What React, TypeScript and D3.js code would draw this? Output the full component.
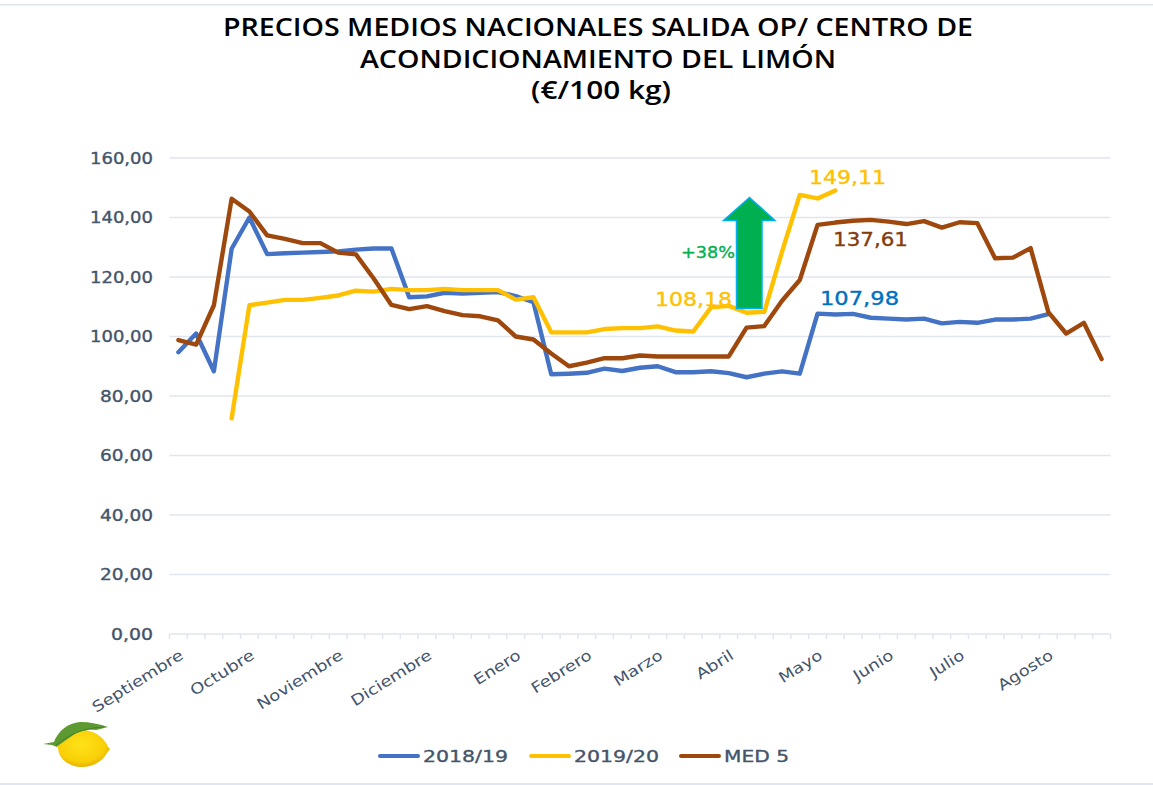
import React from "react";
import * as d3 from "d3";

const titleLines = ["PRECIOS MEDIOS NACIONALES SALIDA OP/ CENTRO DE", "ACONDICIONAMIENTO DEL LIMÓN", "(€/100 kg)"];
const yTicks = [0, 20, 40, 60, 80, 100, 120, 140, 160];
const monthLabels: [number, string][] = [
  [0, "Septiembre"], [4, "Octubre"], [9, "Noviembre"], [14, "Diciembre"], [19, "Enero"], [23, "Febrero"],
  [27, "Marzo"], [31, "Abril"], [36, "Mayo"], [40, "Junio"], [44, "Julio"], [49, "Agosto"],
];
const weeks = d3.range(53);
const s1819 = [94.7, 101, 88.3, 129.5, 140, 127.7, 128, 128.2, 128.4, 128.6, 129.2, 129.6, 129.6, 113.2, 113.5, 114.7, 114.4, 114.7, 114.9, 113.6, 111.5, 87.3, 87.5, 87.8, 89.2, 88.4, 89.5, 90, 88, 88, 88.3, 87.7, 86.3, 87.5, 88.3, 87.5, 107.7, 107.4, 107.6, 106.3, 106, 105.7, 106, 104.4, 104.9, 104.6, 105.7, 105.7, 106, 107.5];
const s1920 = [null, null, null, 72.5, 110.5, 111.4, 112.3, 112.3, 113, 113.8, 115.4, 115.1, 116, 115.6, 115.6, 116, 115.6, 115.6, 115.6, 112.4, 113.2, 101.4, 101.4, 101.4, 102.5, 102.8, 102.8, 103.4, 102, 101.7, 109.8, 110.3, 108, 108.3, 128.5, 147.6, 146.4, 149.1];
const med5 = [98.8, 97.3, 110.5, 146.3, 142, 134, 132.8, 131.4, 131.4, 128.2, 127.6, 119.5, 110.6, 109.2, 110.2, 108.5, 107.2, 106.8, 105.4, 100, 99, 94.3, 90, 91.2, 92.7, 92.7, 93.6, 93.3, 93.3, 93.3, 93.3, 93.3, 103, 103.5, 112, 119, 137.5, 138.3, 138.9, 139.2, 138.6, 137.8, 138.8, 136.6, 138.4, 138.1, 126.3, 126.5, 129.7, 108.2, 101, 104.6, 92.4];

const seriesList: [string, (number | null)[], string][] = [
  ["2018/19", s1819, "#4472C4"],
  ["2019/20", s1920, "#FFC000"],
  ["MED 5", med5, "#9E480E"],
];

const FONT = "'DejaVu Sans', sans-serif";
const AXIS_COLOR = "#44546A";
const GRID = "#E1E6EE";

export default function App() {
  const x = d3.scaleBand<number>().domain(weeks).range([169.5, 1110.5]);
  const y = d3.scaleLinear().domain([0, 160]).range([634, 158]);
  const cx = (i: number) => (x(i) as number) + x.bandwidth() / 2;
  const line = d3
    .line<number | null>()
    .defined((d) => d != null)
    .x((_, i) => cx(i))
    .y((d) => y(d as number));

  const legendX = [379, 530, 680];
  const legendLen = [85, 85, 65];

  const bolder = (c: string) => ({ stroke: c, strokeWidth: 0.35 });

  return (
    <svg width={1153} height={785} style={{ position: "absolute", left: 0, top: 0, background: "#fff" }}>
      <defs>
        <radialGradient id="lem" cx="45%" cy="40%" r="65%">
          <stop offset="0%" stopColor="#FFE21A" />
          <stop offset="70%" stopColor="#F9CF06" />
          <stop offset="100%" stopColor="#DFA800" />
        </radialGradient>
      </defs>
      <rect x={0} y={4} width={1153} height={1.5} fill={GRID} />
      <rect x={0} y={783} width={1153} height={2} fill={GRID} />

      {titleLines.map((t, i) => (
        <text key={t} x={[598, 598, 601][i]} y={[36, 68, 99][i]} textAnchor="middle" fontFamily="'Open Sans', sans-serif" fontWeight={600} fontSize={24.5} fill="#000"
          textLength={[750, 476, 140][i]} lengthAdjust="spacingAndGlyphs">{t}</text>
      ))}

      {yTicks.map((t) => (
        <g key={t}>
          <line x1={169.5} x2={1110.5} y1={y(t)} y2={y(t)} stroke={GRID} strokeWidth={1.5} />
          <text x={153} y={y(t) + 5.5} textAnchor="end" fontFamily={FONT} fontSize={15.5} fill={AXIS_COLOR} {...bolder(AXIS_COLOR)}
            textLength={t === 0 ? 42 : t < 100 ? 53 : 63} lengthAdjust="spacingAndGlyphs">
            {d3.format(".2f")(t).replace(".", ",")}
          </text>
        </g>
      ))}

      {weeks.concat([53]).map((i) => {
        const tx = i === 53 ? 1110.5 : (x(i) as number);
        return <line key={i} x1={tx} x2={tx} y1={634} y2={639} stroke={GRID} strokeWidth={1.5} />;
      })}

      {monthLabels.map(([i, t]) => (
        <text key={t} transform={`translate(${cx(i) + 6},${658}) rotate(-32) scale(1.2,1)`} textAnchor="end" fontFamily={FONT} fontSize={15} fill={AXIS_COLOR}>{t}</text>
      ))}

      {seriesList.map(([n, vals, c]) => (
        <path key={n} d={line(vals) as string} fill="none" stroke={c} strokeWidth={4.4} strokeLinecap="round" strokeLinejoin="round" />
      ))}

      <path d="M749.5 197.5 L775 220.5 L762 220.5 L762 308.5 L736.5 308.5 L736.5 220.5 L723.5 220.5 Z" fill="#00B050" stroke="#00B0F0" strokeWidth={1.5} />
      <text x={681} y={258} fontFamily={FONT} fontSize={16} fill="#00B050" {...bolder("#00B050")} textLength={54} lengthAdjust="spacingAndGlyphs">+38%</text>

      <text x={655} y={306} fontFamily={FONT} fontSize={19} fill="#FFC000" {...bolder("#FFC000")} textLength={77} lengthAdjust="spacingAndGlyphs">108,18</text>
      <text x={809} y={184} fontFamily={FONT} fontSize={19} fill="#FFC000" {...bolder("#FFC000")} textLength={77} lengthAdjust="spacingAndGlyphs">149,11</text>
      <text x={833} y={246} fontFamily={FONT} fontSize={19} fill="#843C0C" {...bolder("#843C0C")} textLength={75} lengthAdjust="spacingAndGlyphs">137,61</text>
      <text x={820} y={305} fontFamily={FONT} fontSize={19} fill="#0070C0" {...bolder("#0070C0")} textLength={79} lengthAdjust="spacingAndGlyphs">107,98</text>

      {seriesList.map(([n, , c], i) => (
        <g key={n}>
          <line x1={legendX[i] + 1} x2={legendX[i] + 39} y1={756} y2={756} stroke={c} strokeWidth={4} strokeLinecap="round" />
          <text x={legendX[i] + 44} y={762} fontFamily={FONT} fontSize={16} fill={AXIS_COLOR} {...bolder(AXIS_COLOR)} textLength={legendLen[i]} lengthAdjust="spacingAndGlyphs">{n}</text>
        </g>
      ))}

      <g>
        <path d="M58 747 C58 735 70 730 82 730 C96 730 106 740 108 747 L110 749 L107 753 C102 762 92 767 82 767 C68 767 58 758 58 747 Z" fill="url(#lem)" />
        <path d="M43 744 L54 742 C58 731 68 723 80 722 C90 722 100 724 108 727 L96 730 C88 729 78 731 72 736 C66 740 60 744 57 747 L52 745 Z" fill="#5E9A32" />
        <path d="M56 745 C66 738 78 728 104 727" fill="none" stroke="#3F7A22" strokeWidth={0.8} />
      </g>
    </svg>
  );
}
